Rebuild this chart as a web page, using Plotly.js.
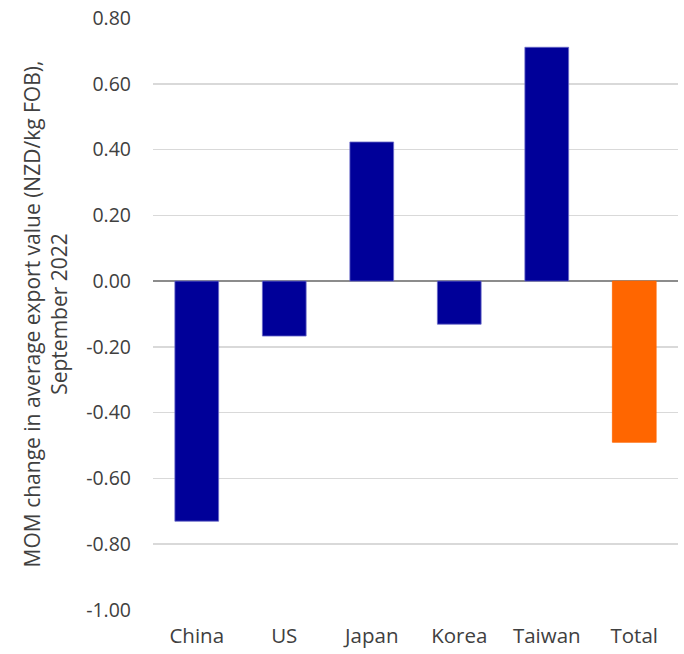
<!DOCTYPE html>
<html>
<head>
<meta charset="utf-8">
<script src="https://cdn.plot.ly/plotly-3.0.1.min.js"></script>
<style>html,body{margin:0;padding:0;background:#fff;}#chart{width:684px;height:654px;}</style>
</head>
<body>
<div id="chart"></div>
<script>
const categories = ["China", "US", "Japan", "Korea", "Taiwan", "Total"];
const values = [-0.73, -0.167, 0.423, -0.131, 0.711, -0.49];
const barColors = ["#000099", "#000099", "#000099", "#000099", "#000099", "#FF6600"];
const lineColors = ["#6a6ac8", "#6a6ac8", "#6a6ac8", "#6a6ac8", "#6a6ac8", "#FF6600"];
const tickVals = [0.8, 0.6, 0.4, 0.2, 0, -0.2, -0.4, -0.6, -0.8, -1.0];
const tickText = ["0.80", "0.60", "0.40", "0.20", "0.00", "-0.20", "-0.40", "-0.60", "-0.80", "-1.00"];

const fam = "Open Sans, sans-serif";

Plotly.newPlot("chart", [{
  type: "bar",
  x: categories,
  y: values,
  width: 0.5,
  marker: {color: barColors, line: {color: lineColors, width: 0.8}},
  hoverinfo: "x+y"
}], {
  width: 684,
  height: 654,
  margin: {l: 153, r: 6, t: 18, b: 44},
  paper_bgcolor: "#fff",
  plot_bgcolor: "#fff",
  showlegend: false,
  font: {family: fam, size: 20, color: "#404040"},
  xaxis: {
    showgrid: false,
    showline: false,
    zeroline: false,
    ticks: "",
    tickfont: {family: fam, size: 20.5, color: "#404040"},
    ticklabelstandoff: 11
  },
  yaxis: {
    range: [-1.0, 0.8],
    tickvals: tickVals,
    ticktext: tickText,
    showgrid: true,
    gridcolor: "#d9d9d9",
    gridwidth: 1.5,
    zeroline: true,
    zerolinecolor: "#8c8c8c",
    zerolinewidth: 1.5,
    showline: false,
    ticks: "",
    tickfont: {family: fam, size: 19.5, color: "#404040"},
    ticklabelstandoff: 21,
    title: {
      text: "MOM change in average export value (NZD/kg FOB),<br>September 2022",
      font: {family: fam, size: 21, color: "#404040"},
      standoff: 12
    }
  }
}, {displayModeBar: false, staticPlot: true});
</script>
</body>
</html>
